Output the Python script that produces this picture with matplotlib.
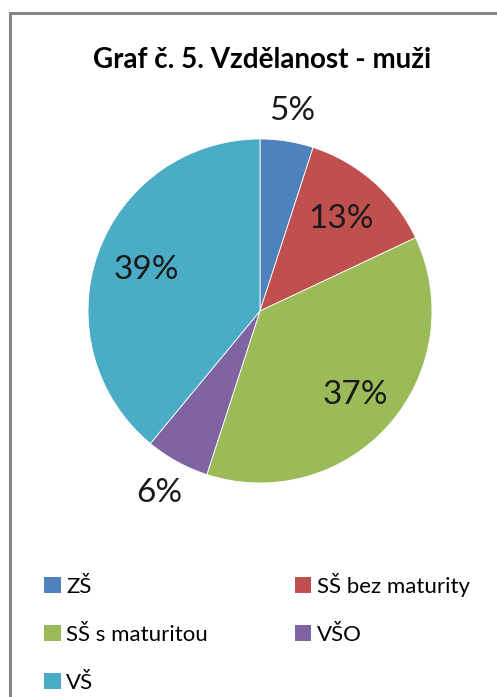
import matplotlib.pyplot as plt
from matplotlib.patches import Rectangle
import numpy as np

plt.rcParams['font.family'] = ['Lato', 'DejaVu Sans']

categories = ['ZŠ', 'SŠ bez maturity', 'SŠ s maturitou', 'VŠO', 'VŠ']
values = [5, 13, 37, 6, 39]
colors = ['#4F81BD', '#C0504D', '#9BBB59', '#8064A2', '#4BACC6']
title = 'Graf č. 5. Vzdělanost - muži'

W, H = 497, 697
fig = plt.figure(figsize=(W / 100, H / 100), dpi=100)

# border of the chart area (right/bottom run off the picture)
fig.patches.append(Rectangle((10 / W, -0.1), 1.2, 1 - 13 / H + 0.1,
                             transform=fig.transFigure, fill=False,
                             edgecolor='#868686', linewidth=2.2))

cx, cy, r = 260, 311, 172
ax = fig.add_axes([(cx - r) / W, 1 - (cy + r) / H, 2 * r / W, 2 * r / H])
wedges, texts, pcts = ax.pie(values, colors=colors, startangle=90, counterclock=False,
                             autopct='%1.0f%%', pctdistance=0.72,
                             wedgeprops=dict(edgecolor='white', linewidth=0.6),
                             textprops=dict(fontsize=24, color='#1a1a1a'))
ax.set_xlim(-1, 1)
ax.set_ylim(-1, 1)

# distance of each percentage label from the centre (Excel "best fit")
dist = [1.18, 0.71, 0.74, 1.21, 0.70]
for w, t, d in zip(wedges, pcts, dist):
    a = np.deg2rad((w.theta1 + w.theta2) / 2)
    t.set_position((d * np.cos(a), d * np.sin(a)))

fig.text(262 / W, 1 - 60 / H, title, ha='center', va='center',
         fontsize=20, fontweight='bold', color='black')

# legend is filled row by row in the original, matplotlib fills columns
handles = [Rectangle((0, 0), 1, 1, facecolor=c) for c in colors]
order = [0, 2, 4, 1, 3]
fig.legend([handles[i] for i in order], [categories[i] for i in order],
           ncol=2, loc='upper left',
           bbox_to_anchor=(24 / W, 1 - 553 / H), frameon=False,
           fontsize=16, handlelength=0.75, handleheight=0.75, handletextpad=0.25,
           columnspacing=3.9, labelspacing=1.25)

fig.savefig('out.png', dpi=100)
